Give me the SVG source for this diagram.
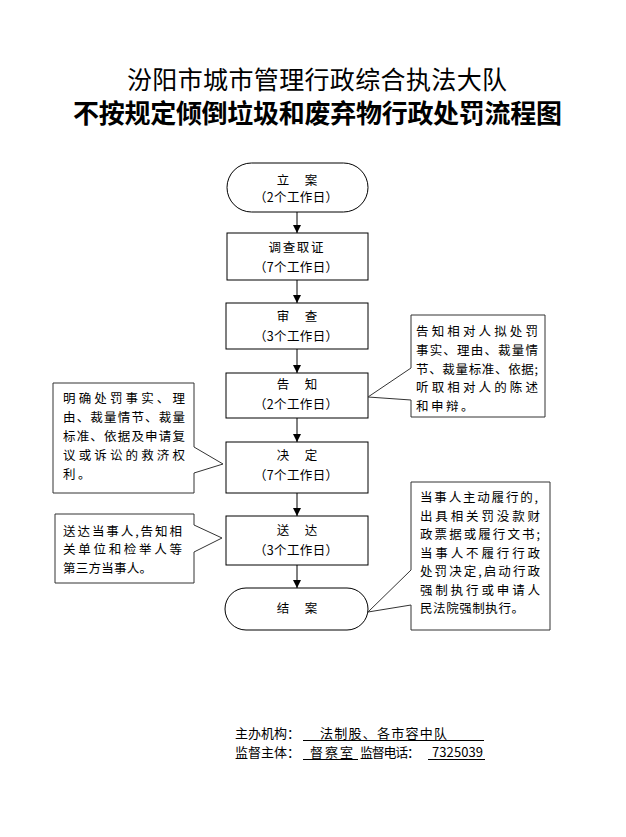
<svg xmlns="http://www.w3.org/2000/svg" width="626" height="837" viewBox="0 0 626 837">
<style>
text{font-family:"Noto Sans CJK SC","Noto Sans",sans-serif;fill:#000}
.node{fill:#fff;stroke:#000;stroke-width:1}
.call{fill:#fff;stroke:#333;stroke-width:1}
.nt{font-size:12.5px;text-anchor:middle}
.ct{font-size:12.5px}
.ft{font-size:13px}
.conn line{stroke:#000;stroke-width:1}
.ul{stroke:#000;stroke-width:1}
</style>
<defs>
<marker id="arr" viewBox="0 0 8 8" refX="8" refY="4" markerWidth="8" markerHeight="8" markerUnits="userSpaceOnUse" orient="auto">
<path d="M0,0 L8,4 L0,8 Z" fill="#000"/>
</marker>
</defs>
<rect width="626" height="837" fill="#fff"/>
<g id="title">
<text x="317" y="89" text-anchor="middle" style="font-size:25px" textLength="380" lengthAdjust="spacing">汾阳市城市管理行政综合执法大队</text>
<text x="317.5" y="123" text-anchor="middle" style="font-size:26px;font-weight:bold" textLength="489" lengthAdjust="spacing">不按规定倾倒垃圾和废弃物行政处罚流程图</text>
</g>
<g class="conn" id="connectors">
<line x1="297" y1="212" x2="297" y2="233" marker-end="url(#arr)"/>
<line x1="297" y1="280" x2="297" y2="303" marker-end="url(#arr)"/>
<line x1="297" y1="349" x2="297" y2="373" marker-end="url(#arr)"/>
<line x1="297" y1="418" x2="297" y2="442" marker-end="url(#arr)"/>
<line x1="297" y1="493" x2="297" y2="516" marker-end="url(#arr)"/>
<line x1="297" y1="565" x2="297" y2="588" marker-end="url(#arr)"/>
</g>
<g id="n1">
<rect class="node" x="227" y="163" width="141" height="49" rx="24.5"/>
<text class="nt" x="283" y="184.5">立</text><text class="nt" x="311" y="184.5">案</text>
<text class="nt" x="296" y="202" textLength="84" lengthAdjust="spacing">（2个工作日）</text>
</g>
<g id="n2">
<rect class="node" x="227" y="233" width="141" height="47"/>
<text class="nt" x="296" y="252" textLength="55" lengthAdjust="spacing">调查取证</text>
<text class="nt" x="296" y="272" textLength="84" lengthAdjust="spacing">（7个工作日）</text>
</g>
<g id="n3">
<rect class="node" x="226" y="303" width="142" height="46"/>
<text class="nt" x="283" y="321">审</text><text class="nt" x="311" y="321">查</text>
<text class="nt" x="296" y="341" textLength="84" lengthAdjust="spacing">（3个工作日）</text>
</g>
<g id="n4">
<rect class="node" x="226" y="373" width="142" height="45"/>
<text class="nt" x="283" y="389">告</text><text class="nt" x="311" y="389">知</text>
<text class="nt" x="296" y="409" textLength="84" lengthAdjust="spacing">（2个工作日）</text>
</g>
<g id="n5">
<rect class="node" x="226" y="442" width="142" height="51"/>
<text class="nt" x="283" y="460">决</text><text class="nt" x="311" y="460">定</text>
<text class="nt" x="296" y="480" textLength="84" lengthAdjust="spacing">（7个工作日）</text>
</g>
<g id="n6">
<rect class="node" x="226" y="516" width="142" height="49"/>
<text class="nt" x="283" y="535">送</text><text class="nt" x="311" y="535">达</text>
<text class="nt" x="296" y="555" textLength="84" lengthAdjust="spacing">（3个工作日）</text>
</g>
<g id="n7">
<rect class="node" x="225" y="588" width="143" height="42" rx="21"/>
<text class="nt" x="283" y="613">结</text><text class="nt" x="311" y="613">案</text>
</g>
<g id="c1">
<path class="call" d="M53,383 H194 V447 L223,464 L194,473 V493 H53 Z"/>
<text class="ct" x="63" y="403" textLength="122" lengthAdjust="spacing">明确处罚事实、理</text>
<text class="ct" x="63" y="422" textLength="122" lengthAdjust="spacing">由、裁量情节、裁量</text>
<text class="ct" x="63" y="441" textLength="122" lengthAdjust="spacing">标准、依据及申请复</text>
<text class="ct" x="63" y="460" textLength="122" lengthAdjust="spacing">议或诉讼的救济权</text>
<text class="ct" x="63" y="479" style="letter-spacing:2.5px">利。</text>
</g>
<g id="c2">
<path class="call" d="M411,315 H545 V417 H411 V400 L368,397 L411,368 Z"/>
<text class="ct" x="416" y="336" textLength="122" lengthAdjust="spacing">告知相对人拟处罚</text>
<text class="ct" x="416" y="355" textLength="122" lengthAdjust="spacing">事实、理由、裁量情</text>
<text class="ct" x="416" y="374" textLength="122" lengthAdjust="spacing">节、裁量标准、依据;</text>
<text class="ct" x="416" y="392" textLength="122" lengthAdjust="spacing">听取相对人的陈述</text>
<text class="ct" x="416" y="411" style="letter-spacing:2.5px">和申辩。</text>
</g>
<g id="c3">
<path class="call" d="M55,514 H194 V525 L222,538 L194,552 V583 H55 Z"/>
<text class="ct" x="63" y="536" textLength="119" lengthAdjust="spacing">送达当事人,告知相</text>
<text class="ct" x="63" y="554" textLength="119" lengthAdjust="spacing">关单位和检举人等</text>
<text class="ct" x="63" y="573" textLength="89" lengthAdjust="spacing">第三方当事人。</text>
</g>
<g id="c4">
<path class="call" d="M411,482 H550 V630 H411 V605 L368,612 L411,570 Z"/>
<text class="ct" x="420" y="502" textLength="118" lengthAdjust="spacing">当事人主动履行的,</text>
<text class="ct" x="420" y="520.5" textLength="120" lengthAdjust="spacing">出具相关罚没款财</text>
<text class="ct" x="420" y="539" textLength="120" lengthAdjust="spacing">政票据或履行文书;</text>
<text class="ct" x="420" y="557.5" textLength="120" lengthAdjust="spacing">当事人不履行行政</text>
<text class="ct" x="420" y="576" textLength="120" lengthAdjust="spacing">处罚决定,启动行政</text>
<text class="ct" x="420" y="594.5" textLength="120" lengthAdjust="spacing">强制执行或申请人</text>
<text class="ct" x="420" y="613" textLength="104" lengthAdjust="spacing">民法院强制执行。</text>
</g>
<g id="footer">
<text class="ft" x="235" y="738" textLength="65" lengthAdjust="spacing">主办机构：</text>
<text class="ft" x="320" y="738" textLength="127" lengthAdjust="spacing">法制股、各市容中队</text>
<line class="ul" x1="303" y1="740.5" x2="484" y2="740.5"/>
<text class="ft" x="235" y="757" textLength="65" lengthAdjust="spacing">监督主体：</text>
<text class="ft" x="310" y="757" textLength="43" lengthAdjust="spacing">督察室</text>
<line class="ul" x1="303" y1="759.5" x2="358" y2="759.5"/>
<text class="ft" x="360" y="757" textLength="60" lengthAdjust="spacing">监督电话：</text>
<text class="ft" x="432" y="757" textLength="51" lengthAdjust="spacing">7325039</text>
<line class="ul" x1="428" y1="759.5" x2="485" y2="759.5"/>
</g>
</svg>
